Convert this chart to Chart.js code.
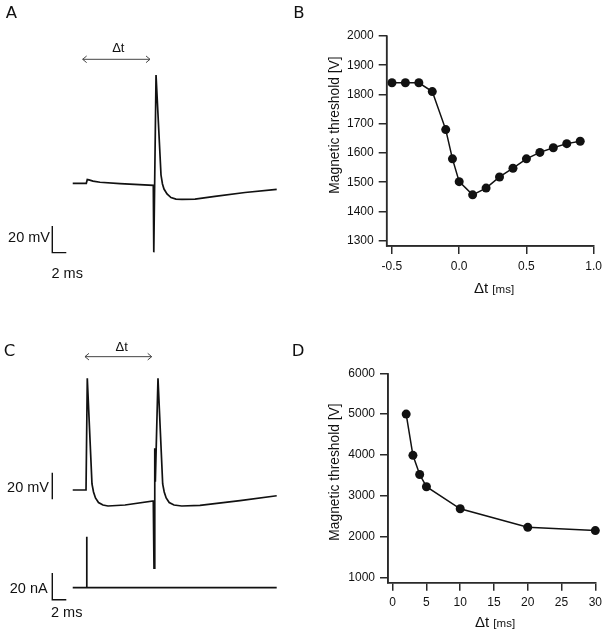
<!DOCTYPE html>
<html><head><meta charset="utf-8">
<script src="https://cdn.jsdelivr.net/npm/chart.js@4/dist/chart.umd.min.js"></script>
<style>
body{margin:0;background:#fff;width:607px;height:637px;position:relative;overflow:hidden;font-family:"Liberation Sans",Arial,sans-serif;color:#111}
canvas{position:absolute}
.t{position:absolute;white-space:nowrap;line-height:1}
.c{transform:translate(-50%,-50%)}
.r{transform:translate(-100%,-50%)}
.l{transform:translate(0,-50%)}
.v{transform:translate(-50%,-50%) rotate(-90deg)}
.letter{font-family:"DejaVu Sans",sans-serif;font-size:16.5px}
.sb{font-size:14.5px}
.dt{font-size:13px}
.yt{font-size:13.8px}
.xt{font-size:15px}
.xt span{font-size:11.5px}
</style></head><body>
<canvas id="cA" width="300" height="300" style="left:0;top:0"></canvas>
<canvas id="cC" width="300" height="317" style="left:0;top:320px"></canvas>
<canvas id="cB" width="287" height="300" style="left:320px;top:0"></canvas>
<canvas id="cD" width="287" height="317" style="left:320px;top:320px"></canvas>

<div class="t c letter" style="left:11.5px;top:13px">A</div>
<div class="t c letter" style="left:299px;top:13px">B</div>
<div class="t c letter" style="left:9.5px;top:351px">C</div>
<div class="t c letter" style="left:298px;top:351px">D</div>

<div class="t c dt" style="left:118.3px;top:46.5px">Δt</div>
<div class="t c dt" style="left:121.7px;top:346px">Δt</div>

<div class="t r sb" style="left:50px;top:236.7px">20 mV</div>
<div class="t l sb" style="left:51.5px;top:273.3px">2 ms</div>
<div class="t r sb" style="left:49px;top:486.7px">20 mV</div>
<div class="t r sb" style="left:47.7px;top:587.7px">20 nA</div>
<div class="t l sb" style="left:51px;top:611.7px">2 ms</div>

<div class="t v yt" style="left:334.5px;top:125px">Magnetic threshold [V]</div>
<div class="t v yt" style="left:334.5px;top:472.3px">Magnetic threshold [V]</div>
<div class="t l xt" style="left:474px;top:287.5px">Δt <span>[ms]</span></div>
<div class="t l xt" style="left:475px;top:621.7px">Δt <span>[ms]</span></div>

<script>
// ---------- Panel B data ----------
const deltaB = [-0.5,-0.4,-0.3,-0.2,-0.1,-0.05,0,0.1,0.2,0.3,0.4,0.5,0.6,0.7,0.8,0.9];
const thresholdB = [1840,1840,1840,1810,1680,1580,1502,1457,1480,1518,1548,1580,1602,1618,1632,1640];
const xTicksB = [-0.5,0,0.5,1.0];
const yTicksB = [1300,1400,1500,1600,1700,1800,1900,2000];

// ---------- Panel D data ----------
const deltaD = [2,3,4,5,10,20,30];
const thresholdD = [5000,3990,3520,3220,2680,2225,2145];
const xTicksD = [0,5,10,15,20,25,30];
const yTicksD = [1000,2000,3000,4000,5000,6000];

// ---------- Panel A trace (time ms, membrane mV) ----------
const traceA_t = [0.39,2.33,2.47,2.71,3.29,4.29,7.14,11.9,11.97,12.29,13.0,13.21,13.43,13.86,14.43,15.14,16.0,17.86,20.71,25.0,29.53];
const traceA_v = [-70,-70,-67.2,-67.4,-68.4,-69.2,-70.2,-71.5,-121.8,11.2,-63.8,-70.5,-74.3,-78.0,-80.7,-81.8,-82.1,-81.8,-79.8,-76.9,-74.5];

// ---------- Panel C traces ----------
const traceC_t = [0.39,2.29,2.47,3.14,3.36,3.64,4.07,4.71,5.43,7.86,11.9,12.0,12.11,12.19,12.57,13.24,13.46,13.74,14.17,14.86,15.96,18.57,24.29,29.53];
const traceC_v = [-70,-70,13.8,-65.5,-71.5,-76,-79.4,-81.25,-82,-81.25,-78.25,-128.7,-38.7,-63.8,13.8,-65.5,-71.5,-76,-79.4,-81.25,-82,-81.5,-77.9,-74.3];
const currentC_t = [0.39,2.39,2.39,2.41,29.53];
const currentC_i = [0,0,38.25,0,0];

// ---------- scale bars & Δt arrows ----------
const barMs = 2, barMv = 20, barNa = 20;
const barA = {t:-2.53, v:-122};
const barC_mv = {t:-2.53, v:-77};
const barC_na = {t:-2.53, i:-9};
const arrowA = {t0:1.81, t1:11.43, v:23};
const arrowC = {t0:2.14, t1:11.67, v:30};
const headDt = 0.57, headDv = 2.5;

const INK = '#111';
const AX = '#2a2a2a';

function zip(xs, ys){ return xs.map((x,i)=>({x:x, y:ys[i]})); }
function lineDs(data, opts){ return Object.assign({data:data, showLine:true, borderColor:INK, borderWidth:1.7, pointRadius:0, tension:0, fill:false}, opts||{}); }
function arrowDs(a){
  return [
    lineDs([{x:a.t0,y:a.v},{x:a.t1,y:a.v}], {borderColor:'#444', borderWidth:1}),
    lineDs([{x:a.t0+headDt,y:a.v+headDv},{x:a.t0,y:a.v},{x:a.t0+headDt,y:a.v-headDv}], {borderColor:'#444', borderWidth:1}),
    lineDs([{x:a.t1-headDt,y:a.v+headDv},{x:a.t1,y:a.v},{x:a.t1-headDt,y:a.v-headDv}], {borderColor:'#444', borderWidth:1})
  ];
}

const hiddenX = {type:'linear', display:false, min:-10, max:(300-70)/7};

new Chart(document.getElementById('cA'), {
  type:'scatter',
  data:{datasets:[
    lineDs(zip(traceA_t, traceA_v)),
    lineDs([{x:barA.t,y:barA.v+barMv},{x:barA.t,y:barA.v},{x:barA.t+barMs,y:barA.v}], {borderWidth:1.4}),
    ...arrowDs(arrowA)
  ]},
  options:{responsive:false, animation:false, events:[],
    layout:{padding:0},
    plugins:{legend:{display:false}, tooltip:{enabled:false}},
    scales:{ x:hiddenX, y:{type:'linear', display:false, min:-157.525, max:67.475} }
  }
});

new Chart(document.getElementById('cC'), {
  type:'scatter',
  data:{datasets:[
    lineDs(zip(traceC_t, traceC_v)),
    lineDs(zip(currentC_t, currentC_i), {yAxisID:'yI'}),
    lineDs([{x:barC_mv.t,y:barC_mv.v+barMv},{x:barC_mv.t,y:barC_mv.v}], {borderWidth:1.4}),
    lineDs([{x:barC_na.t,y:barC_na.i+barNa},{x:barC_na.t,y:barC_na.i},{x:barC_na.t+barMs,y:barC_na.i}], {yAxisID:'yI', borderWidth:1.4}),
    ...arrowDs(arrowC)
  ]},
  options:{responsive:false, animation:false, events:[],
    layout:{padding:0},
    plugins:{legend:{display:false}, tooltip:{enabled:false}},
    scales:{ x:hiddenX,
      y:{type:'linear', display:false, min:-180.25, max:57.5},
      yI:{type:'linear', display:false, min:-36.98, max:200.8}
    }
  }
});

// L-shaped axis frame along the chart area
const axisFrame = {
  id:'axisFrame',
  afterDraw(chart){
    const a = chart.chartArea, ctx = chart.ctx;
    ctx.save();
    ctx.strokeStyle = AX; ctx.lineWidth = 1.6;
    ctx.beginPath();
    ctx.moveTo(a.left, a.top); ctx.lineTo(a.left, a.bottom); ctx.lineTo(a.right, a.bottom);
    ctx.stroke();
    ctx.restore();
  }
};

function axisChart(id, xs, ys, xTicks, yTicks, xr, yr, yW, xH, padR, padT, fmtX){
  const tickFont = {family:'"Liberation Sans", Arial, sans-serif', size:12};
  return new Chart(document.getElementById(id), {
    type:'scatter',
    data:{datasets:[{data:zip(xs, ys), showLine:true, borderColor:INK, borderWidth:1.5,
      pointRadius:4.5, pointBackgroundColor:INK, pointBorderColor:INK, pointBorderWidth:0, tension:0, clip:false}]},
    plugins:[axisFrame],
    options:{responsive:false, animation:false, events:[],
      layout:{padding:{left:0, right:padR, top:padT, bottom:0}},
      plugins:{legend:{display:false}, tooltip:{enabled:false}},
      scales:{
        x:{type:'linear', min:xr[0], max:xr[1],
          afterBuildTicks:s=>{s.ticks = xTicks.map(v=>({value:v}));},
          afterFit:s=>{s.height = xH;},
          ticks:{font:tickFont, color:INK, padding:5, maxRotation:0, autoSkip:false, callback:fmtX},
          grid:{display:true, drawOnChartArea:false, drawTicks:true, tickLength:8, color:AX, lineWidth:1.5},
          border:{display:true, color:AX, width:1.5}
        },
        y:{type:'linear', min:yr[0], max:yr[1],
          afterBuildTicks:s=>{s.ticks = yTicks.map(v=>({value:v}));},
          afterFit:s=>{s.width = yW;},
          ticks:{font:tickFont, color:INK, padding:5, autoSkip:false, callback:v=>String(v)},
          grid:{display:true, drawOnChartArea:false, drawTicks:true, tickLength:8, color:AX, lineWidth:1.5},
          border:{display:true, color:AX, width:1.5}
        }
      }
    }
  });
}

axisChart('cB', deltaB, thresholdB, xTicksB, yTicksB, [-0.539, 1.0], [1282, 2000], 66.7, 54, 10.3, 36, v=>Number(v).toFixed(1));
axisChart('cD', deltaD, thresholdD, xTicksD, yTicksD, [-0.69, 30], [868, 6000], 68, 54.3, 10.3, 53.3, v=>String(v));
</script>
</body></html>
